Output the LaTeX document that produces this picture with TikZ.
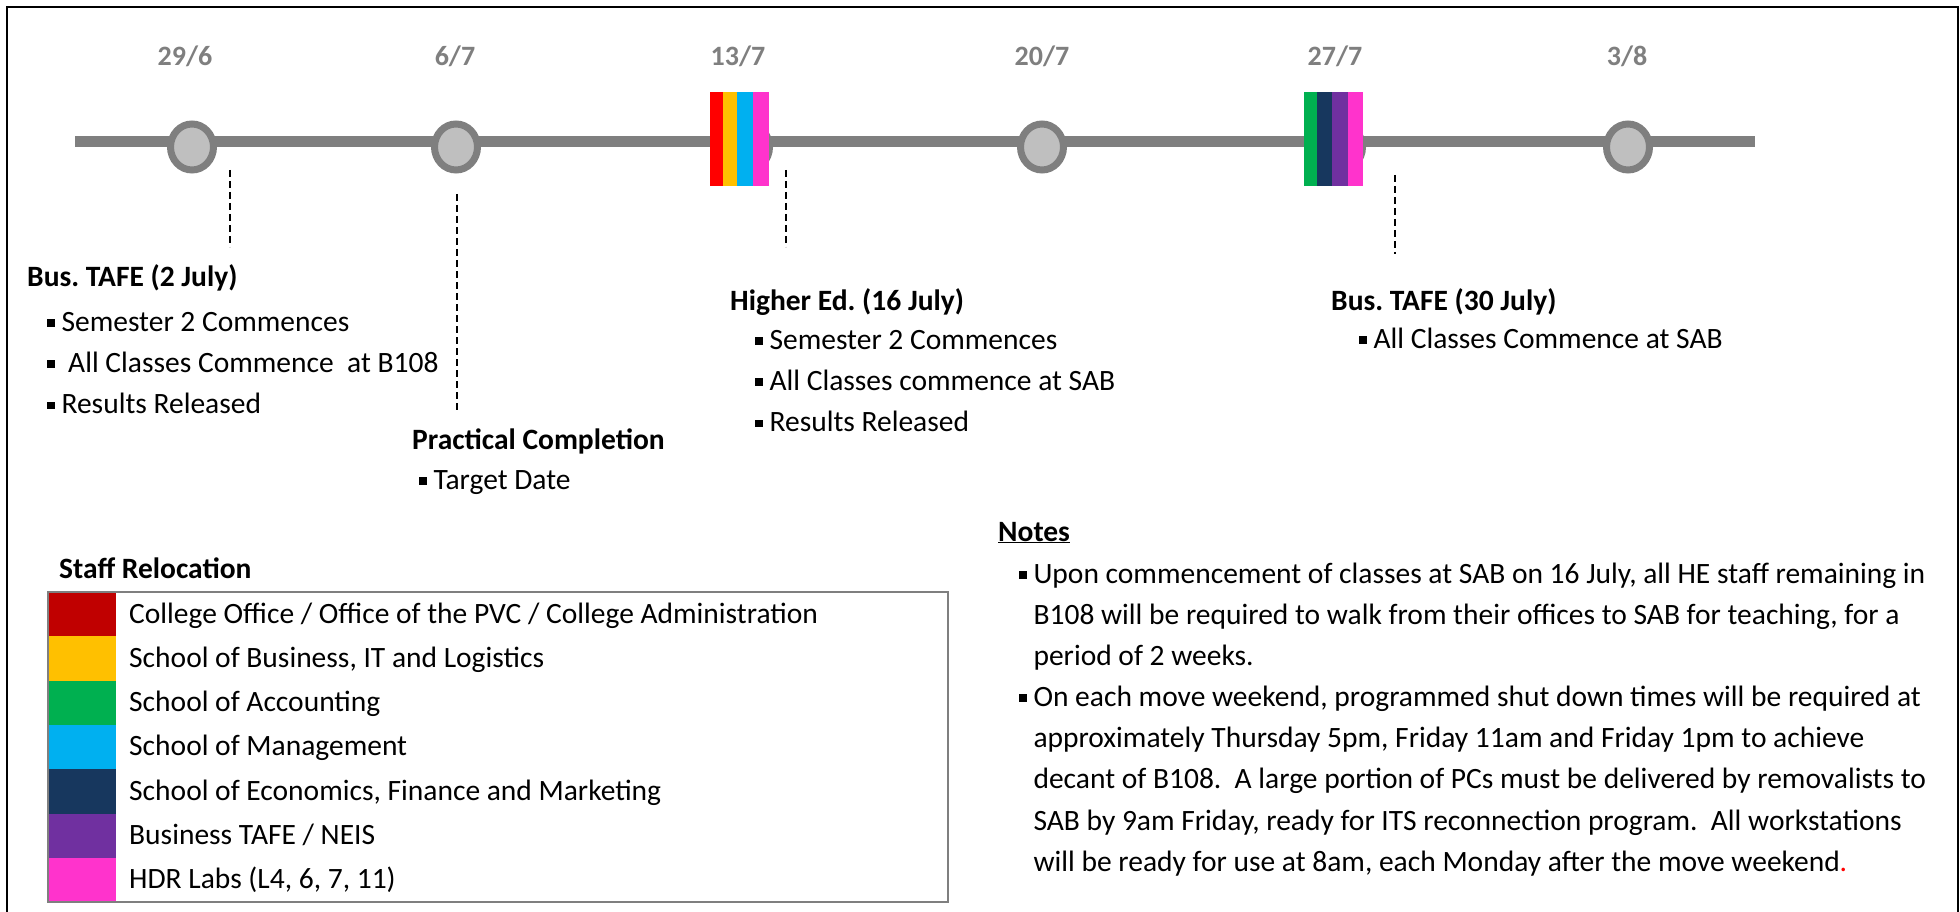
\documentclass[tikz,border=0pt]{standalone}
\usepackage{fontspec}
\setmainfont{Carlito}
\usetikzlibrary{positioning,shapes.geometric}
\definecolor{tlgray}{HTML}{7F7F7F}
\definecolor{dotgray}{HTML}{BFBFBF}
\definecolor{brRed}{HTML}{FF0000}
\definecolor{dkRed}{HTML}{C00000}
\definecolor{amber}{HTML}{FFC000}
\definecolor{leaf}{HTML}{00B050}
\definecolor{sky}{HTML}{00B0F0}
\definecolor{navy}{HTML}{17375E}
\definecolor{plum}{HTML}{7030A0}
\definecolor{hotpink}{HTML}{FF33CC}
\newcommand{\sqb}{\rule[0.15em]{0.26em}{0.26em}}
\frenchspacing

\begin{document}
\begin{tikzpicture}
  [
      x=1pt, y=-1pt,
      every node/.style={inner sep=0pt, font=\fontsize{29.5}{41.3}\selectfont},
      date/.style={anchor=base, text=tlgray, font=\fontsize{28}{30}\selectfont\bfseries},
      head/.style={anchor=base west, font=\fontsize{29.5}{41.3}\selectfont\bfseries},
      items/.style={anchor=north west, align=left},
      dot/.style={ellipse, draw=tlgray, fill=dotgray, line width=7pt, minimum width=43pt, minimum height=46pt},
      guide/.style={dash pattern=on 7pt off 4pt, line width=1.6pt}
    ]
    \useasboundingbox (0,0) rectangle (1960,912);
    \draw[line width=2pt] (7,914) -- (7,7) -- (1958,7) -- (1958,914);

    % timeline
    \coordinate (tlstart) at (75,142);
    \coordinate (tlend) at (1755,142);
    \draw[tlgray, line width=11pt] (tlstart) -- (tlend);
    \foreach \x [count=\i] in {192, 456, 748, 1042, 1341, 1628}
      \node (c\i) [dot] at (\x,147) {};
    \node (d1) [date] at (185,66) {29/6};
    \node (d2) [date] at (455,66) {6/7};
    \node (d3) [date] at (738,66) {13/7};
    \node (d4) [date] at (1042,66) {20/7};
    \node (d5) [date] at (1335,66) {27/7};
    \node (d6) [date] at (1627,66) {3/8};

    % move blocks
    \foreach \c/\xa/\xb in {brRed/710/723, amber/723/737, sky/737/753, hotpink/753/769}
      \fill[\c] (\xa,92) rectangle (\xb,186);
    \foreach \c/\xa/\xb in {leaf/1304/1317, navy/1317/1332, plum/1332/1348, hotpink/1348/1363}
      \fill[\c] (\xa,92) rectangle (\xb,186);

    % guides
    \coordinate (g1a) at (230,170);  \coordinate (g1b) at (230,247);
    \coordinate (g2a) at (457,194);  \coordinate (g2b) at (457,410);
    \coordinate (g3a) at (786,170);  \coordinate (g3b) at (786,247);
    \coordinate (g4a) at (1395,175); \coordinate (g4b) at (1395,254);
    \foreach \g in {g1,g2,g3,g4}
      \draw[guide] (\g a) -- (\g b);

    % events
    \node (bt1) [head] at (27,287) {Bus. TAFE (2 July)};
    \node (bt1items) [items] at ([shift={(20,15)}]bt1.base west)
      {\strut\sqb{} Semester 2 Commences\\\sqb{} \ All Classes Commence\ \ at B108\\\sqb{} Results Released};
    \node (pc) [head] at (412,449) {Practical Completion};
    \node (pcitems) [items] at ([shift={(7,11)}]pc.base west) {\strut\sqb{} Target Date};
    \node (he) [head] at (730,310) {Higher Ed. (16 July)};
    \node (heitems) [items] at ([shift={(25,10)}]he.base west)
      {\strut\sqb{} Semester 2 Commences\\\sqb{} All Classes commence at SAB\\\sqb{} Results Released};
    \node (bt2) [head] at (1331,310) {Bus. TAFE (30 July)};
    \node (bt2items) [items] at ([shift={(28,9)}]bt2.base west) {\strut\sqb{} All Classes Commence at SAB};

    % staff relocation key
    \node (staff) [head] at (59,578) {Staff Relocation};
    \foreach \c/\t [count=\i from 0] in {dkRed/{College Office / Office of the PVC / College Administration},
        amber/{School of Business, IT and Logistics}, leaf/{School of Accounting},
        sky/{School of Management}, navy/{School of Economics, Finance and Marketing},
        plum/{Business TAFE / NEIS}, hotpink/{HDR Labs (L4, 6, 7, 11)}}
      {
        \fill[\c] (48,592+44.3*\i) rectangle (116,592+44.3*\i+44.3);
        \node (key\i) [anchor=base west] at (129,592+44.3*\i+31) {\t};
      }
    \draw[tlgray, line width=2pt] (48,592) rectangle (948,902);

    % notes
    \node (notes) [head] at (998,541) {\underline{Notes}};
    \node (note1) [items] at (1019,554)
      {\strut\sqb{} Upon commencement of classes at SAB on 16 July, all HE staff remaining in\\
       \hphantom{\sqb{} }B108 will be required to walk from their offices to SAB for teaching, for a\\
       \hphantom{\sqb{} }period of 2 weeks.};
    \node (note2) [items] at (1019,677)
      {\strut\sqb{} On each move weekend, programmed shut down times will be required at\\
       \hphantom{\sqb{} }approximately Thursday 5pm, Friday 11am and Friday 1pm to achieve\\
       \hphantom{\sqb{} }decant of B108.\ \ A large portion of PCs must be delivered by removalists to\\
       \hphantom{\sqb{} }SAB by 9am Friday, ready for ITS reconnection program.\ \ All workstations\\
       \hphantom{\sqb{} }will be ready for use at 8am, each Monday after the move weekend{\color{brRed}.}};
  \end{tikzpicture}
\end{document}
